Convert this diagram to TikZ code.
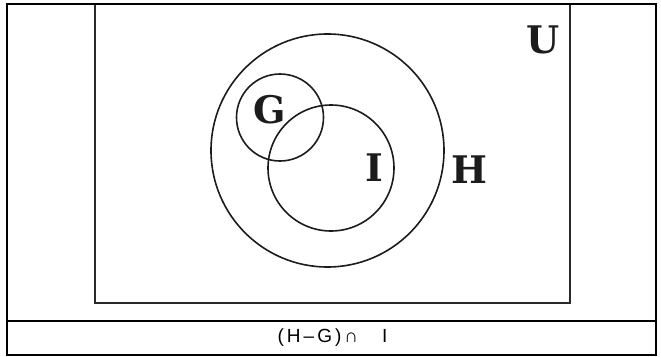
\documentclass[tikz,border=0pt]{standalone}
\usepackage{fontspec}
\newfontfamily\setfont{DejaVu Serif}
\newfontfamily\capfont{Liberation Sans}
\definecolor{boxgray}{HTML}{2A2A2A}
\definecolor{ringblack}{HTML}{1C1C1C}
\tikzset{
  tableframe/.style={draw=black, line width=2.4pt},
  universe/.style={draw=boxgray, line width=1.9pt, fill=white},
  setcircle/.style={circle, draw=ringblack, line width=1.6pt, inner sep=0pt},
  setlabel/.style={font=\setfont\bfseries\fontsize{38}{38}\selectfont, text=ringblack, inner sep=0pt},
  captiontext/.style={font=\capfont\fontsize{19}{19}\selectfont, inner sep=0pt}
}
\begin{document}
\begin{tikzpicture}[x=1pt,y=-1pt]
\useasboundingbox (0,0) rectangle (661,356);
% universal set
\draw[universe] (95,4) rectangle (570,303);
% table
\draw[tableframe] (7,4) rectangle (656,355);
\draw[tableframe] (7,321) -- (656,321);
% sets
\node[setcircle, minimum size=233pt] (H) at (327.5,150.5) {};
\node[setcircle, minimum size=87pt] (G) at (280,117.5) {};
\node[setcircle, minimum size=126pt] (I) at (331,168) {};
\node[setlabel] (Ulabel) at (543,40) {U};
\node[setlabel] (Glabel) at (269.5,109.5) {G};
\node[setlabel] (Ilabel) at (374,168) {I};
\node[setlabel] (Hlabel) at (469,170) {H};
\node[captiontext] (cap) at (332.5,338) {(\hspace{3pt}H\hspace{3pt}–\hspace{3pt}G\hspace{3pt})\hspace{3pt}∩\hspace{24pt}I};
\end{tikzpicture}
\end{document}
